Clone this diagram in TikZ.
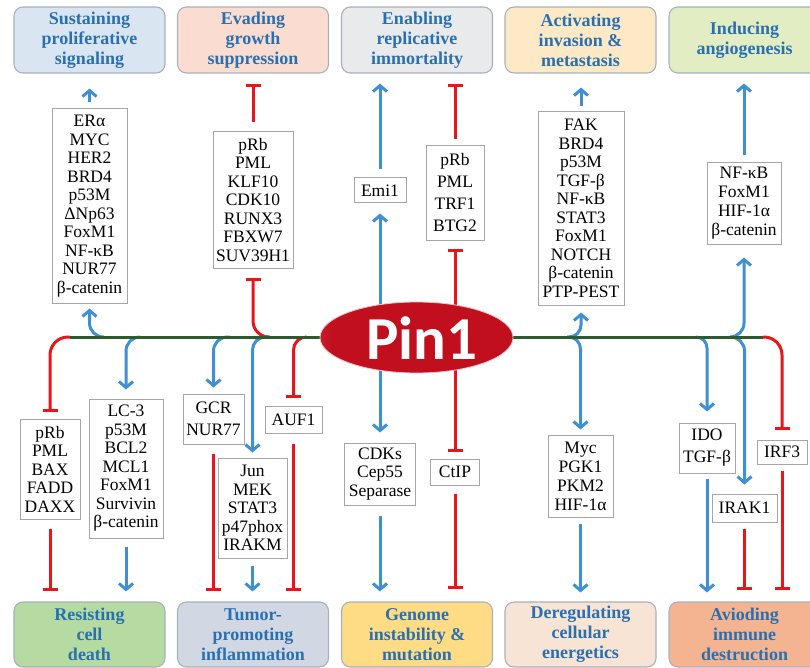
\documentclass[tikz,border=0pt]{standalone}
\usepackage{fontspec}
\setmainfont{Liberation Serif}[Ligatures=TeX]
\newfontfamily\serfnt{Liberation Serif}
\newfontfamily\pinfont{Carlito}
\usetikzlibrary{arrows.meta,shapes.geometric}
\definecolor{ttlblue}{HTML}{2A70B0}
\definecolor{ttlborder}{HTML}{A9B1BA}
\definecolor{boxgray}{HTML}{A6A6A6}
\definecolor{arrblue}{HTML}{3F8FD2}
\definecolor{inhred}{HTML}{E8161B}
\definecolor{maingreen}{HTML}{2D5A2E}
\definecolor{pinred}{HTML}{C20F1E}
\definecolor{pinpale}{HTML}{DA9CA4}
\definecolor{tA}{HTML}{D9E6F2}
\definecolor{tB}{HTML}{FADDD0}
\definecolor{tC}{HTML}{E9EAEC}
\definecolor{tD}{HTML}{FDE9C6}
\definecolor{tE}{HTML}{E2EDC4}
\definecolor{bA}{HTML}{B5DBA2}
\definecolor{bB}{HTML}{D1D8E4}
\definecolor{bC}{HTML}{FEDC86}
\definecolor{bD}{HTML}{F7E4D5}
\definecolor{bE}{HTML}{F5B491}
\pgfdeclarehorizontalshading{pinshade}{100bp}{color(0bp)=(pinpale); color(28bp)=(pinred); color(74bp)=(pinred); color(100bp)=(pinpale)}
\newcommand\boxfnt{\serfnt\fontsize{17.5}{18.5}\selectfont}
\newcommand\boxfntw{\serfnt\fontsize{17.5}{22}\selectfont}
\newcommand\boxfntm{\serfnt\fontsize{17.5}{19}\selectfont}
\newcommand\ttlfnt{\serfnt\fontsize{18}{20}\selectfont\bfseries}
\tikzset{
  ttl/.style={draw=ttlborder, line width=1.1pt, rounded corners=9pt, minimum width=151pt,
    minimum height=66pt, align=center, font=\ttlfnt, text=ttlblue, inner sep=0pt},
  gbox/.style={draw=boxgray, line width=1pt, fill=white, align=center, inner sep=0pt, font=\boxfnt},
  barrow/.style={draw=arrblue, line width=3pt, -{Straight Barb[length=6pt,width=14pt]}},
  rbar/.style={draw=inhred, line width=3pt, -{Bar[width=15pt]}},
}
\begin{document}
\begin{tikzpicture}[x=1pt,y=-1pt]
\useasboundingbox (0,0) rectangle (810,668);
% title boxes
\node[ttl, fill=tA] (T1) at (89.5,40) {Sustaining\\proliferative\\signaling};
\node[ttl, fill=tB] (T2) at (253,40) {Evading\\growth\\suppression};
\node[ttl, fill=tC] (T3) at (417,40) {Enabling\\replicative\\immortality};
\node[ttl, fill=tD] (T4) at (580.5,40) {Activating\\invasion \&\\metastasis};
\node[ttl, fill=tE] (T5) at (744.5,40) {Inducing\\angiogenesis};
\node[ttl, fill=bA, minimum height=65pt] (B1) at (89.5,634.5) {Resisting\\cell\\death};
\node[ttl, fill=bB, minimum height=65pt] (B2) at (253,634.5) {Tumor-\\promoting\\inflammation};
\node[ttl, fill=bC, minimum height=65pt] (B3) at (417,634.5) {Genome\\instability \&\\mutation};
\node[ttl, fill=bD, minimum height=65pt] (B4) at (580.5,634.5) {Deregulating\\cellular\\energetics};
\node[ttl, fill=bE, minimum height=65pt] (B5) at (744.5,634.5) {Avioding\\immune\\destruction};
% upper factor boxes
\node[gbox, minimum width=75pt, minimum height=194pt] (E1) at (89.5,206) {ERα\\MYC\\HER2\\BRD4\\p53M\\ΔNp63\\FoxM1\\NF-κB\\NUR77\\β-catenin};
\node[gbox, minimum width=80pt, minimum height=136pt] (E2) at (253,200) {pRb\\PML\\KLF10\\CDK10\\RUNX3\\FBXW7\\SUV39H1};
\node[gbox, minimum width=52pt, minimum height=25pt] (E3) at (380,190.5) {Emi1};
\node[gbox, font=\boxfntw, minimum width=58pt, minimum height=94pt] (E4) at (455,193) {pRb\\PML\\TRF1\\BTG2};
\node[gbox, minimum width=86pt, minimum height=193pt] (E5) at (581,208.5) {FAK\\BRD4\\p53M\\TGF-β\\NF-κB\\STAT3\\FoxM1\\NOTCH\\β-catenin\\PTP-PEST};
\node[gbox, font=\boxfntm, minimum width=74pt, minimum height=81pt] (E6) at (744,203.5) {NF-κB\\FoxM1\\HIF-1α\\β-catenin};
% lower factor boxes
\node[gbox, minimum width=60pt, minimum height=100pt] (L1) at (50,469) {pRb\\PML\\BAX\\FADD\\DAXX};
\node[gbox, minimum width=74pt, minimum height=139pt] (L2) at (126,468.5) {LC-3\\p53M\\BCL2\\MCL1\\FoxM1\\Survivin\\β-catenin};
\node[gbox, font=\boxfntw, minimum width=61pt, minimum height=50pt] (L3) at (213.5,419) {GCR\\NUR77};
\node[gbox, minimum width=69pt, minimum height=100pt] (L4) at (252.5,508) {Jun\\MEK\\STAT3\\p47phox\\IRAKM};
\node[gbox, minimum width=57pt, minimum height=27pt] (L5) at (293.5,419.5) {AUF1};
\node[gbox, minimum width=71pt, minimum height=62pt] (L6) at (380,474) {CDKs\\Cep55\\Separase};
\node[gbox, minimum width=49pt, minimum height=26pt] (L7) at (455,472) {CtIP};
\node[gbox, font=\boxfntm, minimum width=65pt, minimum height=82pt] (L8) at (580.5,476) {Myc\\PGK1\\PKM2\\HIF-1α};
\node[gbox, font=\boxfntw, minimum width=56pt, minimum height=50pt] (L9) at (707,448) {IDO\\TGF-β};
\node[gbox, minimum width=65pt, minimum height=28pt] (L10) at (744.5,508) {IRAK1};
\node[gbox, minimum width=50pt, minimum height=24pt] (L11) at (782,452) {IRF3};
% junctions on the main line
\coordinate (pinc) at (416.5,337.5);
\coordinate (jA) at (104,337);
\coordinate (jB) at (70,337);
\coordinate (jC) at (140,337);
\coordinate (jD) at (270,337);
\coordinate (jE) at (230,337);
\coordinate (jF) at (266,337);
\coordinate (jG) at (306,337);
\coordinate (jH) at (567,337);
\coordinate (jI) at (730,337);
\coordinate (jJ) at (696,337);
\coordinate (jK) at (763,337);
% branches from the main line
\draw[barrow, rounded corners=14pt, shorten >=5pt] (jA) -| (E1.south);
\draw[rbar, rounded corners=18pt, shorten >=7pt] (jB) -| (L1.north);
\draw[barrow, rounded corners=14pt, shorten >=9pt] (jC) -| (L2.north);
\draw[rbar, rounded corners=16pt, shorten >=9pt] (jD) -| (E2.south);
\draw[barrow, rounded corners=14pt, shorten >=6pt] (jE) -| (L3.north);
\draw[barrow, rounded corners=13pt, shorten >=5pt] (jF) -| (L4.north);
\draw[rbar, rounded corners=13pt, shorten >=8pt] (jG) -| (L5.north);
\draw[barrow, rounded corners=12pt, shorten >=7pt] (jH) -| (E5.south);
\draw[barrow, rounded corners=12pt, shorten >=5pt] (jH) -| (L8.north);
\draw[barrow, rounded corners=14pt, shorten >=13pt] (jI) -| (E6.south);
\draw[barrow, rounded corners=14pt, shorten >=9pt] (jI) -| (L10.north);
\draw[barrow, rounded corners=11pt, shorten >=11pt] (jJ) -| (L9.north);
\draw[rbar, rounded corners=18pt, shorten >=10pt] (jK) -| (L11.north);
% vertical lines through Pin1
\draw[barrow, shorten >=10pt] (E3.south |- pinc) -- (E3.south);
\draw[barrow, shorten >=10pt] (L6.north |- pinc) -- (L6.north);
\draw[rbar, shorten >=8pt] (E4.south |- pinc) -- (E4.south);
\draw[rbar, shorten >=7pt] (L7.north |- pinc) -- (L7.north);
% main line
\draw[maingreen, line width=3pt] (jB) -- (jK);
% Pin1
\node[ellipse, minimum width=193pt, minimum height=71pt, inner sep=0pt, shade, shading=pinshade,
  draw=pinpale!60!white, line width=0.8pt] (pin) at (pinc) {};
\node[text=white, font={\pinfont\bfseries\fontsize{61}{61}\selectfont}, inner sep=0pt] (pintxt) at (422,338) {Pin1};
% arrows to the top hallmarks
\draw[barrow, shorten <=6pt, shorten >=15pt] (E1.north) -- (E1.north |- T1.south);
\draw[rbar, shorten <=9pt, shorten >=10pt] (E2.north) -- (E2.north |- T2.south);
\draw[barrow, shorten <=8pt, shorten >=10pt] (E3.north) -- (E3.north |- T3.south);
\draw[rbar, shorten <=6pt, shorten >=10pt] (E4.north) -- (E4.north |- T3.south);
\draw[barrow, shorten <=5pt, shorten >=14pt] (E5.north) -- (E5.north |- T4.south);
\draw[barrow, shorten <=7pt, shorten >=10pt] (E6.north) -- (E6.north |- T5.south);
% arrows to the bottom hallmarks
\draw[rbar, shorten <=9pt, shorten >=10pt] (L1.south) -- (L1.south |- B1.north);
\draw[barrow, shorten <=8pt, shorten >=10pt] (L2.south) -- (L2.south |- B1.north);
\draw[rbar, shorten <=9pt, shorten >=10pt] (L3.south) -- (L3.south |- B2.north);
\draw[barrow, shorten <=7pt, shorten >=10pt] (L4.south) -- (L4.south |- B2.north);
\draw[rbar, shorten <=10pt, shorten >=10pt] (L5.south) -- (L5.south |- B2.north);
\draw[barrow, shorten <=10pt, shorten >=10pt] (L6.south) -- (L6.south |- B3.north);
\draw[rbar, shorten <=8pt, shorten >=12pt] (L7.south) -- (L7.south |- B3.north);
\draw[barrow, shorten <=6pt, shorten >=9pt] (L8.south) -- (L8.south |- B4.north);
\draw[barrow, shorten <=5pt, shorten >=9pt] (L9.south) -- (L9.south |- B5.north);
\draw[rbar, shorten <=6pt, shorten >=11pt] (L10.south) -- (L10.south |- B5.north);
\draw[rbar, shorten <=6pt, shorten >=11pt] (L11.south) -- (L11.south |- B5.north);
\end{tikzpicture}
\end{document}
